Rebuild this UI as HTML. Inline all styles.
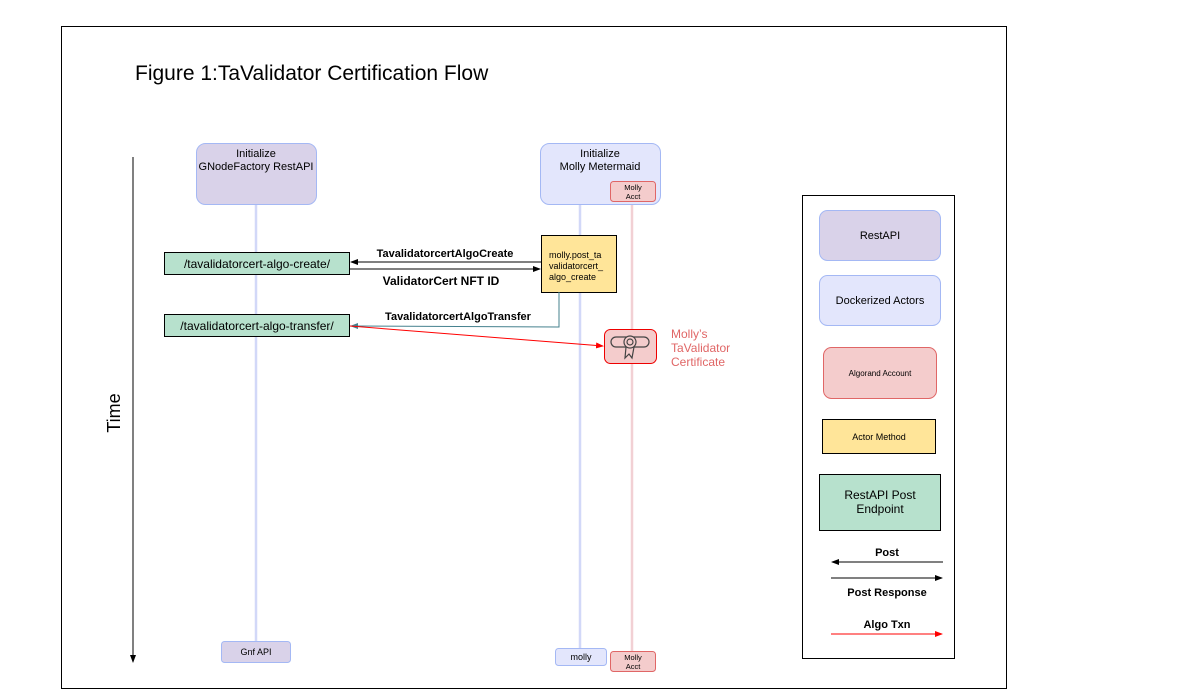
<!DOCTYPE html>
<html><head><meta charset="utf-8"><style>body{margin:0;background:#fff}svg{display:block}text{font-family:"Liberation Sans",Arial,sans-serif}</style></head><body>
<svg width="1202" height="696" viewBox="0 0 1202 696" xmlns="http://www.w3.org/2000/svg">
<defs>
<marker id="ab" markerWidth="8" markerHeight="6" refX="7" refY="3" orient="auto" markerUnits="userSpaceOnUse"><path d="M0,0 L8,3 L0,6z" fill="#000"/></marker>
<marker id="ar" markerWidth="8" markerHeight="6" refX="7" refY="3" orient="auto" markerUnits="userSpaceOnUse"><path d="M0,0 L8,3 L0,6z" fill="#f00"/></marker>
<marker id="at" markerWidth="8" markerHeight="6" refX="7" refY="3" orient="auto" markerUnits="userSpaceOnUse"><path d="M0,0 L8,3 L0,6z" fill="#45818e"/></marker>
</defs>
<rect x="61.5" y="26.5" width="945" height="662" fill="#fff" stroke="#000"/>
<text x="135" y="80" font-size="21">Figure 1:TaValidator Certification Flow</text>
<line x1="133" y1="157" x2="133" y2="662" stroke="#000" marker-end="url(#ab)"/>
<text x="120" y="413" font-size="18" transform="rotate(-90 120 413)" text-anchor="middle">Time</text>
<line x1="256" y1="204" x2="256" y2="641" stroke="#d2d8f8" stroke-width="2.5"/>
<line x1="580" y1="204" x2="580" y2="648" stroke="#d2d8f8" stroke-width="2.5"/>
<line x1="632" y1="201" x2="632" y2="651" stroke="#f2d0d4" stroke-width="2.5"/>
<rect x="196.5" y="143.5" width="120" height="61" rx="9" fill="#d9d2e9" stroke="#a4b8f4"/>
<text x="256" y="157" font-size="11" text-anchor="middle">Initialize</text>
<text x="256" y="170" font-size="11" text-anchor="middle">GNodeFactory RestAPI</text>
<rect x="540.5" y="143.5" width="120" height="61" rx="9" fill="#e3e6fc" stroke="#a4b8f4"/>
<text x="600" y="157" font-size="11" text-anchor="middle">Initialize</text>
<text x="600" y="170" font-size="11" text-anchor="middle">Molly Metermaid</text>
<rect x="610.5" y="181.5" width="45" height="20" rx="3" fill="#f4cccc" stroke="#e06666"/>
<text x="633" y="190" font-size="7.5" text-anchor="middle">Molly</text>
<text x="633" y="199" font-size="7.5" text-anchor="middle">Acct</text>
<rect x="164.5" y="252.5" width="185" height="22" fill="#b7e1cd" stroke="#000"/>
<text x="257" y="268" font-size="12" text-anchor="middle">/tavalidatorcert-algo-create/</text>
<rect x="164.5" y="314.5" width="185" height="22" fill="#b7e1cd" stroke="#000"/>
<text x="257" y="330" font-size="12" text-anchor="middle">/tavalidatorcert-algo-transfer/</text>
<rect x="541.5" y="235.5" width="75" height="57" fill="#ffe599" stroke="#000"/>
<text x="549" y="258" font-size="9">molly.post_ta</text>
<text x="549" y="269" font-size="9">validatorcert_</text>
<text x="549" y="280" font-size="9">algo_create</text>
<line x1="541" y1="262" x2="351" y2="262" stroke="#000" marker-end="url(#ab)"/>
<line x1="350" y1="269" x2="540" y2="269" stroke="#000" marker-end="url(#ab)"/>
<text x="445" y="257" font-size="11" font-weight="bold" text-anchor="middle">TavalidatorcertAlgoCreate</text>
<text x="441" y="285" font-size="12" font-weight="bold" text-anchor="middle">ValidatorCert NFT ID</text>
<polyline points="559,292 559,327 351,326" fill="none" stroke="#45818e" marker-end="url(#at)"/>
<text x="458" y="320" font-size="11" font-weight="bold" text-anchor="middle">TavalidatorcertAlgoTransfer</text>
<line x1="350" y1="326" x2="603" y2="346" stroke="#f00" marker-end="url(#ar)"/>
<rect x="604.5" y="329.5" width="52" height="34" rx="6" fill="#f4cccc" stroke="#e00"/>
<g fill="none" stroke="#444" stroke-width="1.2">
<rect x="611" y="337" width="38" height="10" rx="5"/>
<circle cx="630" cy="342" r="6" fill="#f4cccc"/><circle cx="630" cy="342" r="3"/>
<path d="M626,347 L625,358 L629,354 L632,358 L634,347"/>
</g>
<text x="671" y="338" font-size="12" fill="#e06666">Molly’s</text>
<text x="671" y="352" font-size="12" fill="#e06666">TaValidator</text>
<text x="671" y="366" font-size="12" fill="#e06666">Certificate</text>
<rect x="221.5" y="641.5" width="69" height="21" rx="3" fill="#d9d2e9" stroke="#a4b8f4"/>
<text x="256" y="655" font-size="9" text-anchor="middle">Gnf API</text>
<rect x="555.5" y="648.5" width="51" height="17" rx="3" fill="#e3e6fc" stroke="#a4b8f4"/>
<text x="581" y="660" font-size="9" text-anchor="middle">molly</text>
<rect x="610.5" y="651.5" width="45" height="20" rx="3" fill="#f4cccc" stroke="#e06666"/>
<text x="633" y="660" font-size="7.5" text-anchor="middle">Molly</text>
<text x="633" y="669" font-size="7.5" text-anchor="middle">Acct</text>
<rect x="802.5" y="195.5" width="152" height="463" fill="#fff" stroke="#000"/>
<rect x="819.5" y="210.5" width="121" height="50" rx="8" fill="#d9d2e9" stroke="#a4b8f4"/>
<text x="880" y="239" font-size="11" text-anchor="middle">RestAPI</text>
<rect x="819.5" y="275.5" width="121" height="50" rx="8" fill="#e3e6fc" stroke="#a4b8f4"/>
<text x="880" y="304" font-size="11" text-anchor="middle">Dockerized Actors</text>
<rect x="823.5" y="347.5" width="113" height="51" rx="8" fill="#f4cccc" stroke="#e06666"/>
<text x="880" y="376" font-size="8" text-anchor="middle">Algorand Account</text>
<rect x="822.5" y="419.5" width="113" height="34" fill="#ffe599" stroke="#000"/>
<text x="879" y="440" font-size="9" text-anchor="middle">Actor Method</text>
<rect x="819.5" y="474.5" width="121" height="56" fill="#b7e1cd" stroke="#000"/>
<text x="880" y="499" font-size="12" text-anchor="middle">RestAPI Post</text>
<text x="880" y="513" font-size="12" text-anchor="middle">Endpoint</text>
<text x="887" y="556" font-size="11" font-weight="bold" text-anchor="middle">Post</text>
<line x1="943" y1="562" x2="832" y2="562" stroke="#000" marker-end="url(#ab)"/>
<line x1="831" y1="578" x2="942" y2="578" stroke="#000" marker-end="url(#ab)"/>
<text x="887" y="596" font-size="11" font-weight="bold" text-anchor="middle">Post Response</text>
<text x="887" y="628" font-size="11" font-weight="bold" text-anchor="middle">Algo Txn</text>
<line x1="831" y1="634" x2="942" y2="634" stroke="#f00" marker-end="url(#ar)"/>
</svg>
</body></html>
